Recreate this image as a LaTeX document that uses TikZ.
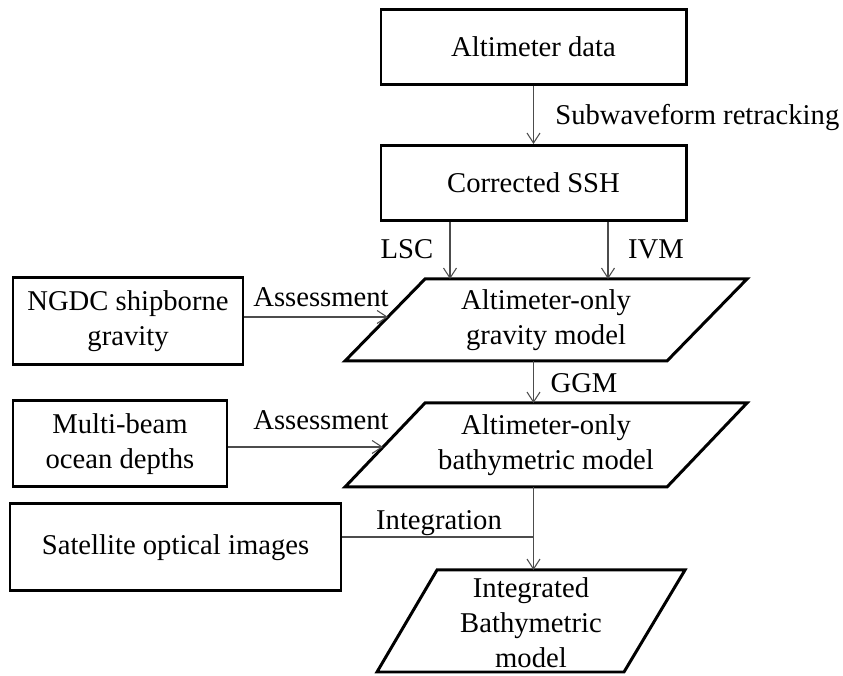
\documentclass[tikz,border=0pt]{standalone}
\usepackage{fontspec}
\setmainfont{Liberation Serif}
\usepackage{tikz}
\usetikzlibrary{arrows.meta,positioning,calc}
\newcommand{\flowfont}{\fontsize{16.3}{19.9}\selectfont}

\begin{document}
\begin{tikzpicture}[
    box/.style={draw, line width=1.7pt, minimum width=6.1cm, minimum height=1.5cm,
                align=center, font=\flowfont, inner sep=2pt},
    para/.style={draw, line width=1.7pt, line join=miter},
    ptext/.style={align=center, font=\flowfont, inner sep=0pt},
    arrow/.style={-{Straight Barb[length=2mm,width=2.6mm]}, draw=black!70, line width=0.6pt},
    line/.style={draw=black!70, line width=0.6pt},
    lbl/.style={font=\flowfont, inner sep=0pt}
]
\useasboundingbox (0,0) rectangle (16.86,13.52);

% Nodes
\node[box] (alt) at (10.67, 12.58) {Altimeter data};
\node[box] (ssh) at (10.67, 9.86) {Corrected SSH};
\node[box, minimum width=4.6cm, minimum height=1.74cm] (ngdc) at (2.56, 7.09) {NGDC shipborne\\gravity};
\node[box, minimum width=4.28cm, minimum height=1.72cm] (mbeam) at (2.40, 4.64) {Multi-beam\\ocean depths};
\node[box, minimum width=6.62cm, minimum height=1.74cm] (sat) at (3.51, 2.57) {Satellite optical images};

% Parallelograms
\draw[para] (8.50,7.94) -- (14.94,7.94) -- (13.34,6.30) -- (6.90,6.30) -- cycle;
\draw[para] (8.50,5.46) -- (14.94,5.46) -- (13.34,3.78) -- (6.90,3.78) -- cycle;
\draw[para] (8.74,2.12) -- (13.70,2.12) -- (12.48,0.08) -- (7.54,0.08) -- cycle;
\node[ptext] (grav) at (10.92, 7.12) {Altimeter-only\\gravity model};
\node[ptext] (bathy) at (10.92, 4.62) {Altimeter-only\\bathymetric model};
\node[ptext] (integ) at (10.62, 1.06) {Integrated\\Bathymetric\\model};
\coordinate (gravtop) at (10.92, 7.94);
\coordinate (gravbot) at (10.92, 6.30);
\coordinate (gravleft) at (7.76, 7.18);
\coordinate (bathytop) at (10.92, 5.46);
\coordinate (bathybot) at (10.92, 3.78);
\coordinate (bathyleft) at (7.66, 4.58);
\coordinate (integtop) at (10.62, 2.12);

% Arrows
\draw[arrow] (alt) -- (ssh);
\draw[arrow] ([xshift=-1.67cm]ssh.south) -- ([xshift=-1.67cm]ssh.south |- gravtop);
\draw[arrow] ([xshift=1.49cm]ssh.south) -- ([xshift=1.49cm]ssh.south |- gravtop);
\draw[arrow] ([yshift=0.09cm]ngdc.east) -- (gravleft);
\draw[arrow] (gravbot -| alt.south) -- (bathytop -| alt.south);
\draw[arrow] ([yshift=-0.06cm]mbeam.east) -- (bathyleft);
\draw[arrow] (bathybot -| alt.south) -- (integtop -| alt.south);
\draw[line] ([yshift=0.21cm]sat.east) -- ([yshift=0.21cm]sat.east -| alt.south);

% Labels
\node[lbl, right] (swr) at (11.1, 11.16) {Subwaveform retracking};
\node[lbl] (lsc) at (8.14, 8.54) {LSC};
\node[lbl] (ivm) at (13.12, 8.54) {IVM};
\node[lbl] (assess1) at (6.42, 7.58) {Assessment};
\node[lbl] (assess2) at (6.42, 5.12) {Assessment};
\node[lbl] (ggm) at (11.68, 5.86) {GGM};
\node[lbl] (intg) at (8.78, 3.06) {Integration};

\end{tikzpicture}
\end{document}
